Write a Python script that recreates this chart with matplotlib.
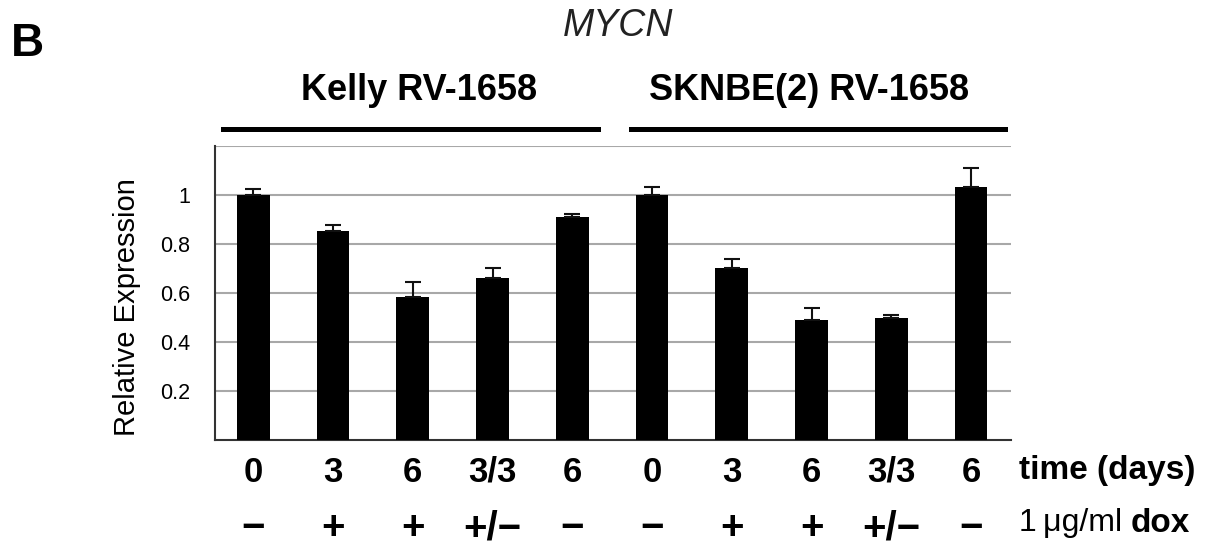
import matplotlib
matplotlib.use('Agg')
import matplotlib.pyplot as plt
from matplotlib.lines import Line2D

plt.rcParams['font.family'] = ['Liberation Sans', 'DejaVu Sans']

# data
days = ['0', '3', '6', '3/3', '6', '0', '3', '6', '3/3', '6']
dox = ['\u2212', '+', '+', '+/\u2212', '\u2212', '\u2212', '+', '+', '+/\u2212', '\u2212']
expression = [1.00, 0.853, 0.585, 0.661, 0.910, 1.00, 0.702, 0.490, 0.498, 1.033]
error = [0.025, 0.025, 0.061, 0.039, 0.014, 0.033, 0.038, 0.049, 0.011, 0.077]
groups = ['Kelly RV-1658', 'SKNBE(2) RV-1658']

fig = plt.figure(figsize=(12.11, 5.48), dpi=100)
ax = fig.add_axes([0.1775, 0.1971, 0.6573, 0.5365])

x = list(range(len(expression)))
ax.bar(x, expression, width=0.41, color='black', zorder=3)
ax.errorbar(x, expression, yerr=[[0] * len(error), error], fmt='none',
            ecolor='#111111', elinewidth=1.5, capsize=5.5, capthick=1.5, zorder=4)

ax.set_xlim(-0.48, 9.5)
ax.set_ylim(0, 1.2)
ax.set_yticks([0.2, 0.4, 0.6, 0.8, 1.0, 1.2], labels=['0.2', '0.4', '0.6', '0.8', '1', ''])
ax.set_xticks([])
ax.tick_params(axis='y', length=0, pad=18, labelsize=15.5)
ax.yaxis.grid(True, color='#a8a8a8', linewidth=1.5, zorder=0)
for s in ['top', 'right']:
    ax.spines[s].set_visible(False)
ax.spines['left'].set_color('#333333')
ax.spines['left'].set_linewidth(1.5)
ax.spines['bottom'].set_color('#333333')
ax.spines['bottom'].set_linewidth(1.5)

fig.text(127 / 1211, 1 - 307 / 548, 'Relative Expression', rotation=90,
         ha='center', va='center', fontsize=21)

# labels under the bars
tr = ax.get_xaxis_transform()
for i in x:
    ax.text(i, -0.11, days[i], transform=tr, ha='center', va='center',
            fontsize=25, fontweight='bold')
    ax.text(i, -0.30, dox[i], transform=tr, ha='center', va='center',
            fontsize=29, fontweight='bold')
ax.text(1019 / 1211, 1 - 470 / 548, 'time (days)', transform=fig.transFigure,
        ha='left', va='center', fontsize=24, fontweight='bold')
t1 = ax.text(1019 / 1211, 1 - 523 / 548, '1\u2009\u03bcg/ml ', transform=fig.transFigure,
             ha='left', va='center', fontsize=23)
ax.annotate('dox', xy=(1, 0.5), xycoords=t1, ha='left', va='center',
            fontsize=24, fontweight='bold')

# group headers
fig.text(419 / 1211, 1 - 90 / 548, groups[0], ha='center', va='center',
         fontsize=26, fontweight='bold')
fig.text(809 / 1211, 1 - 90 / 548, groups[1], ha='center', va='center',
         fontsize=26, fontweight='bold')
for x0, x1 in [(223, 598), (631, 1005)]:
    fig.add_artist(Line2D([x0 / 1211, x1 / 1211], [1 - 128.5 / 548] * 2,
                          color='black', linewidth=3.6, transform=fig.transFigure))

fig.text(618 / 1211, 1 - 26 / 548, 'MYCN', ha='center', va='center',
         fontsize=27, fontstyle='italic', color='#222222')
fig.text(11 / 1211, 1 - 44 / 548, 'B', ha='left', va='center',
         fontsize=33, fontweight='bold')

fig.savefig('out.png', dpi=100)
